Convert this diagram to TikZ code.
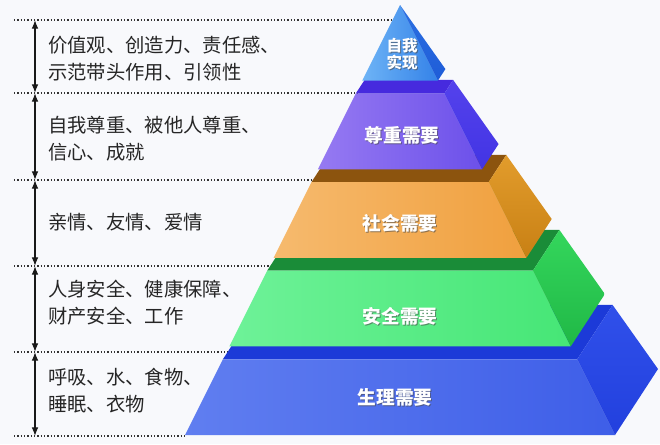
\documentclass[tikz,border=0pt]{standalone}
\usepackage{fontspec}
\setmainfont{Noto Sans CJK SC}
\usetikzlibrary{calc,arrows.meta}
\definecolor{bgc}{RGB}{248,249,252}
\definecolor{apexL}{RGB}{110,180,246}
\definecolor{apexR}{RGB}{52,130,232}
\definecolor{apexS1}{RGB}{44,112,226}
\definecolor{apexS2}{RGB}{30,92,216}
\definecolor{purL}{RGB}{150,122,242}
\definecolor{purR}{RGB}{108,80,234}
\definecolor{purS1}{RGB}{84,66,236}
\definecolor{purS2}{RGB}{66,52,228}
\definecolor{purT}{RGB}{70,42,222}
\definecolor{oraL}{RGB}{246,186,110}
\definecolor{oraR}{RGB}{240,160,62}
\definecolor{oraS1}{RGB}{226,156,44}
\definecolor{oraS2}{RGB}{200,128,20}
\definecolor{oraT}{RGB}{140,84,14}
\definecolor{greL}{RGB}{110,242,152}
\definecolor{greR}{RGB}{70,230,118}
\definecolor{greS1}{RGB}{52,214,92}
\definecolor{greS2}{RGB}{32,184,70}
\definecolor{greT}{RGB}{26,140,56}
\definecolor{bluL}{RGB}{96,126,240}
\definecolor{bluR}{RGB}{62,94,232}
\definecolor{bluS1}{RGB}{48,80,234}
\definecolor{bluS2}{RGB}{34,64,222}
\definecolor{bluT}{RGB}{28,58,216}
\newcommand\pyrlayer[7]{%
  \fill[#7] ($(A)!#1!(L)$) -- ($(A)!#1!(R)$) -- ($(A)!#1!(B)$) -- ($(A)!#1!(K)$) -- cycle;
  \shade[left color=#3, right color=#4] ($(A)!#1!(L)$) -- ($(A)!#1!(R)$) -- ($(A)!#2!(R)$) -- ($(A)!#2!(L)$) -- cycle;
  \shade[top color=#5, bottom color=#6] ($(A)!#1!(R)$) -- ($(A)!#1!(B)$) -- ($(A)!#2!(B)$) -- ($(A)!#2!(R)$) -- cycle;
}
\begin{document}
\begin{tikzpicture}[x=0.75pt,y=-0.75pt,
  guide/.style={line width=1pt, dash pattern=on 1pt off 1.5pt, black!80},
  dimarrow/.style={{Latex[length=6.5pt,width=5pt]}-{Latex[length=6.5pt,width=5pt]}, line width=0.9pt, black!90},
  lefttext/.style={anchor=west, inner sep=0pt, align=left, font=\fontsize{14.5pt}{20.25pt}\selectfont, text=black!85},
  plabel/.style={inner sep=0pt, align=center, text=white, font=\bfseries\fontsize{14pt}{16pt}\selectfont},
  pshadow/.style={plabel, text=black!70, opacity=0.6},
  smalllabel/.style={font=\bfseries\fontsize{11.6pt}{12.75pt}\selectfont}]
\useasboundingbox (0,0) rectangle (660,444);
\fill[bgc] (0,0) rectangle (660,444);
% pyramid corners
\coordinate (A) at (400,5);
\coordinate (L) at (185,435);
\coordinate (R) at (615,435);
\coordinate (B) at (658,369);
\coordinate (K) at (228,369);
% guide lines
\foreach \i/\yy in {0/20,1/93,2/180,3/266,4/352,5/436}{
  \coordinate (g\i) at (14,\yy);
  \coordinate (h\i) at ({402-0.5*(\yy-5)},\yy);
  \coordinate (d\i) at (35,\yy);
  \draw[guide] (g\i) -- (h\i);
}
\foreach \i/\j in {0/1,1/2,2/3,3/4,4/5}{
  \draw[dimarrow] (d\i) -- (d\j);
}
% layers from bottom to top
\pyrlayer{0.824}{1.0}{bluL}{bluR}{bluS1}{bluS2}{bluT}
\pyrlayer{0.618}{0.794}{greL}{greR}{greS1}{greS2}{greT}
\pyrlayer{0.412}{0.588}{oraL}{oraR}{oraS1}{oraS2}{oraT}
\pyrlayer{0.206}{0.382}{purL}{purR}{purS1}{purS2}{purT}
\pyrlayer{0}{0.176}{apexL}{apexR}{apexS1}{apexS2}{apexS1}
% pyramid labels
\node[pshadow,smalllabel] (s0) at (403.2,55.2) {自我\\实现};
\node[plabel,smalllabel] (p0) at (402,54) {自我\\实现};
\node[pshadow] (s1) at (403.2,136.2) {尊重需要};
\node[plabel] (p1) at (402,135) {尊重需要};
\node[pshadow] (s2) at (401.2,224.2) {社会需要};
\node[plabel] (p2) at (400,223) {社会需要};
\node[pshadow] (s3) at (401.2,317.2) {安全需要};
\node[plabel] (p3) at (400,316) {安全需要};
\node[pshadow] (s4) at (396.2,398.2) {生理需要};
\node[plabel] (p4) at (395,397) {生理需要};
% left texts
\node[lefttext] (t1) at (48,58.5) {价值观、创造力、责任感、\\示范带头作用、引领性};
\node[lefttext] (t2) at (48,138.5) {自我尊重、被他人尊重、\\信心、成就};
\node[lefttext] (t3) at (48,222) {亲情、友情、爱情};
\node[lefttext] (t4) at (48,303) {人身安全、健康保障、\\财产安全、工作};
\node[lefttext] (t5) at (48,391) {呼吸、水、食物、\\睡眠、衣物};
\end{tikzpicture}
\end{document}
